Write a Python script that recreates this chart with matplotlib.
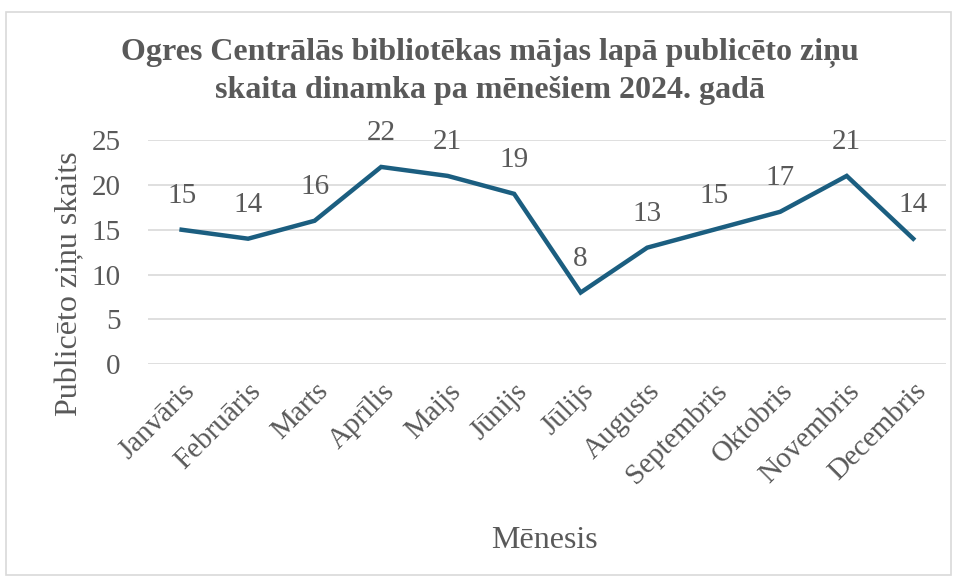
import matplotlib.pyplot as plt
from matplotlib.patches import Rectangle

months = ['Janvāris', 'Februāris', 'Marts', 'Aprīlis', 'Maijs', 'Jūnijs',
          'Jūlijs', 'Augusts', 'Septembris', 'Oktobris', 'Novembris', 'Decembris']
counts = [15, 14, 16, 22, 21, 19, 8, 13, 15, 17, 21, 14]
yticks = [0, 5, 10, 15, 20, 25]

plt.rcParams['font.family'] = ['Liberation Serif', 'DejaVu Serif']
grey = '#595959'

fig = plt.figure(figsize=(9.57, 5.81), dpi=100)
ax = fig.add_axes([0.155, 0.373, 0.834, 0.386])

x = list(range(len(months)))
ax.plot(x, counts, color='#1b5e80', linewidth=3.2, solid_joinstyle='miter')
for xi, v in zip(x, counts):
    ax.annotate(str(v), (xi, v), xytext=(0, 15), textcoords='offset points',
                ha='center', va='bottom', fontsize=21, color=grey)

ax.set_xlim(-0.5, len(months) - 0.5)
ax.set_ylim(0, 25)
ax.set_yticks(yticks)
ax.set_xticks(x)
ax.set_xticklabels(months, rotation=45, ha='right', rotation_mode='anchor')
ax.tick_params(axis='both', length=0, labelsize=21, colors=grey)
ax.tick_params(axis='x', pad=10)
ax.tick_params(axis='y', pad=20)
ax.grid(axis='y', color='#d9d9d9', linewidth=1.2)
ax.set_axisbelow(True)
for s in ax.spines.values():
    s.set_visible(False)

ax.set_ylabel('Publicēto ziņu skaits', fontsize=23, color=grey)
ax.yaxis.set_label_coords(-0.08, 0.36)
fig.text(0.569, 0.07, 'Mēnesis', fontsize=23, color=grey, ha='center', va='center')
fig.text(0.512, 0.877, 'Ogres Centrālās bibliotēkas mājas lapā publicēto ziņu\nskaita dinamka pa mēnešiem 2024. gadā',
         fontsize=23, fontweight='bold', color=grey, ha='center', va='center', linespacing=1.4)

fig.patches.append(Rectangle((0.006, 0.01), 0.988, 0.97, transform=fig.transFigure,
                             fill=False, edgecolor='#d9d9d9', linewidth=1.2))

fig.savefig('out.png', dpi=100)
